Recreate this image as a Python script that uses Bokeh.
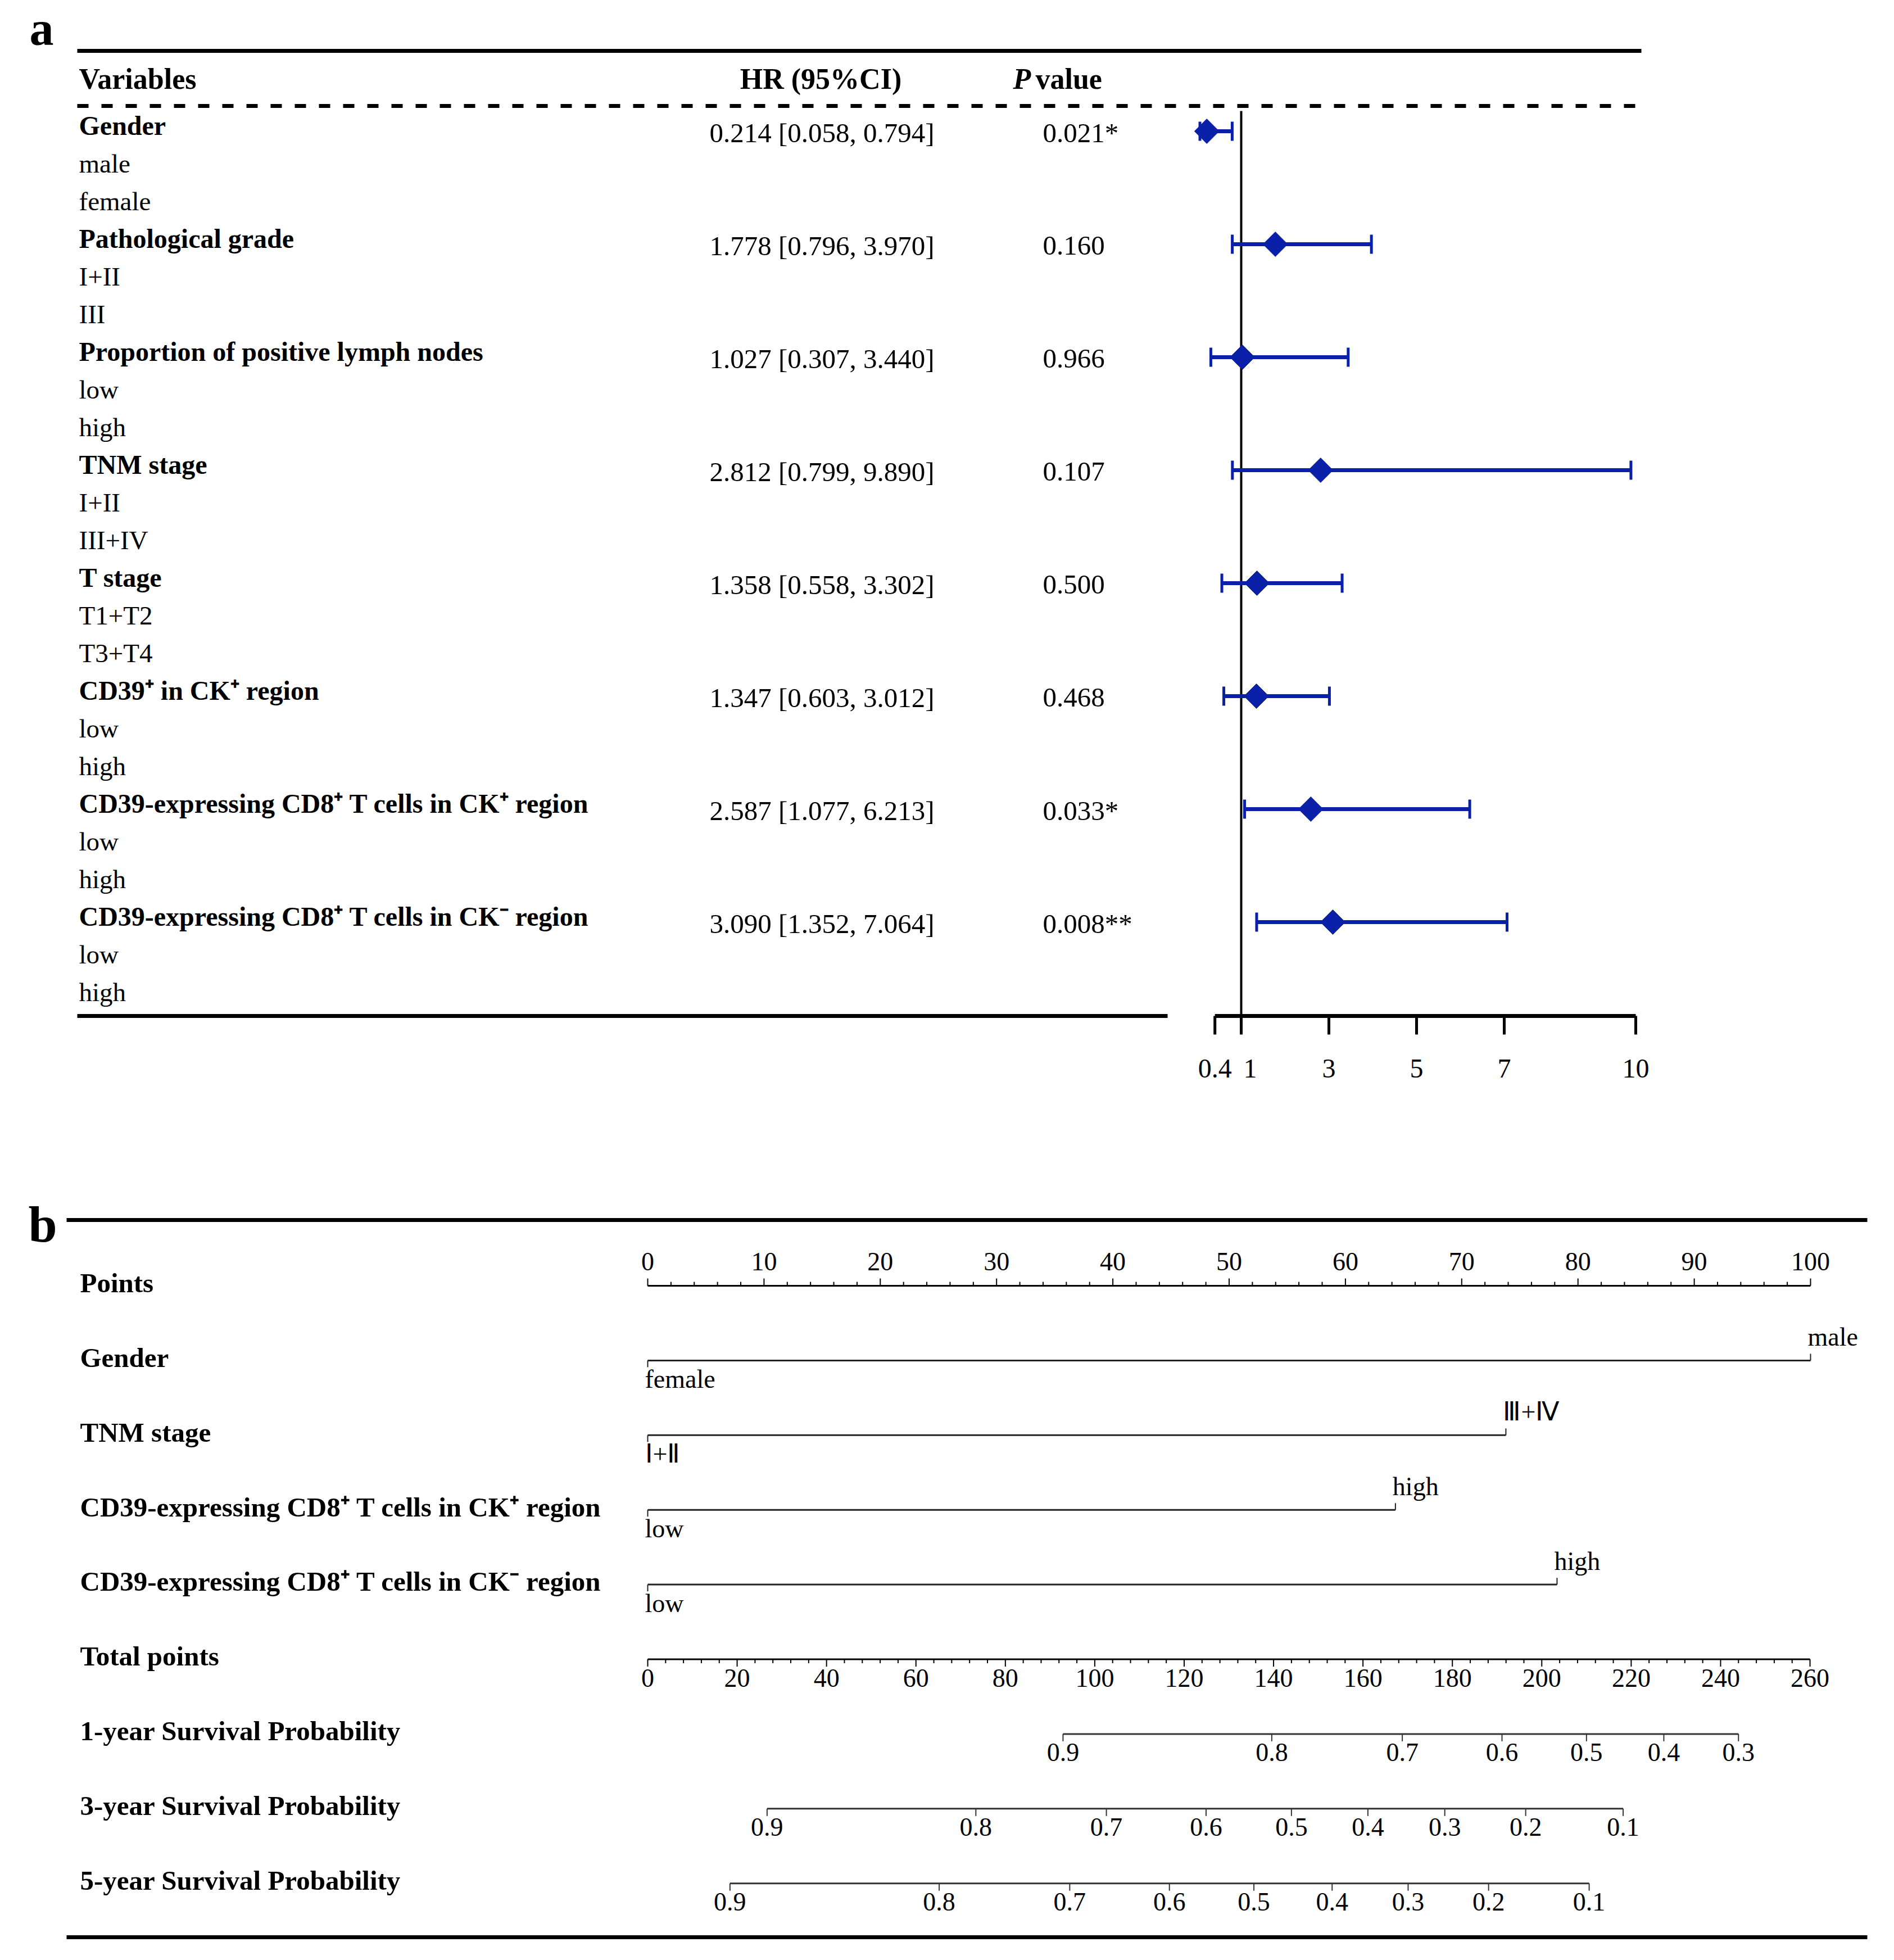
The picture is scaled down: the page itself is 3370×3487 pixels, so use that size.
import numpy as np
from bokeh.plotting import figure
from bokeh.models import Range1d
from bokeh.core.properties import value
from bokeh.embed import file_html
from bokeh.resources import INLINE

# ---------------- data ----------------
group_names = ["Gender", "Pathological grade", "Proportion of positive lymph nodes",
               "TNM stage", "T stage", "CD39\u207a in CK\u207a region",
               "CD39-expressing CD8\u207a T cells in CK\u207a region",
               "CD39-expressing CD8\u207a T cells in CK\u207b region"]
group_levels = [["male", "female"], ["I+II", "III"], ["low", "high"], ["I+II", "III+IV"],
                ["T1+T2", "T3+T4"], ["low", "high"], ["low", "high"], ["low", "high"]]
hr = [0.214, 1.778, 1.027, 2.812, 1.358, 1.347, 2.587, 3.090]
ci_low = [0.058, 0.796, 0.307, 0.799, 0.558, 0.603, 1.077, 1.352]
ci_high = [0.794, 3.970, 3.440, 9.890, 3.302, 3.012, 6.213, 7.064]
p_values = ["0.021*", "0.160", "0.966", "0.107", "0.500", "0.468", "0.033*", "0.008**"]
hr_ticks = [0.4, 1, 3, 5, 7, 10]
hr_tick_labels = ["0.4", "1", "3", "5", "7", "10"]

nomo_vars = ["Gender", "TNM stage",
             "CD39-expressing CD8\u207a T cells in CK\u207a region",
             "CD39-expressing CD8\u207a T cells in CK\u207b region"]
nomo_low_labels = ["female", "\u2160+\u2161", "low", "low"]
nomo_high_labels = ["male", "\u2162+\u2163", "high", "high"]
nomo_high_points = [100, 73.8, 64.3, 78.2]
points_ticks = [0, 10, 20, 30, 40, 50, 60, 70, 80, 90, 100]
total_ticks = [0, 20, 40, 60, 80, 100, 120, 140, 160, 180, 200, 220, 240, 260]
surv_names = ["1-year Survival Probability", "3-year Survival Probability",
              "5-year Survival Probability"]
surv_1y_prob = [0.9, 0.8, 0.7, 0.6, 0.5, 0.4, 0.3]
surv_1y_pts = [92.9, 139.6, 168.8, 191.1, 210.0, 227.3, 244.0]
surv_3y_prob = [0.9, 0.8, 0.7, 0.6, 0.5, 0.4, 0.3, 0.2, 0.1]
surv_3y_pts = [26.7, 73.4, 102.6, 124.9, 144.0, 161.1, 178.3, 196.4, 218.2]
surv_5y_prob = [0.9, 0.8, 0.7, 0.6, 0.5, 0.4, 0.3, 0.2, 0.1]
surv_5y_pts = [18.4, 65.2, 94.4, 116.7, 135.6, 153.1, 170.1, 188.1, 210.6]

# ---------------- layout ----------------
FONT = "Liberation Serif"
BLUE = "#0B20A8"
W, H = 3354, 3468
X0, Y0 = 0, 0
TEXT_DY_EM = 0.35          # baseline correction for rendered text

HR1_PX, HR_K = 2208.0, 78.0            # pixel of HR = 1, px per HR unit
PTS0_PX, PTS_K = 1152.0, 20.69          # points scale
TOT0_PX, TOT_K = 1152.0, 7.954          # total points scale

p = figure(width=W, height=H, x_range=Range1d(X0, X0 + W), y_range=Range1d(Y0 + H, Y0),
           x_axis_type=None, y_axis_type=None, toolbar_location=None,
           output_backend="svg", min_border=0, outline_line_color=None)
p.extra_x_ranges = {
    "hr": Range1d(1 - (HR1_PX - X0) / HR_K, 1 + (X0 + W - HR1_PX) / HR_K),
    "pts": Range1d(-(PTS0_PX - X0) / PTS_K, (X0 + W - PTS0_PX) / PTS_K),
    "tot": Range1d(-(TOT0_PX - X0) / TOT_K, (X0 + W - TOT0_PX) / TOT_K),
}


def txt(x, y, s, size, style="normal", align="left", xr="default"):
    p.text(x=list(x), y=[yy - TEXT_DY_EM * size for yy in y], text=list(s),
           text_font=value(FONT), text_font_size=f"{size}px", text_font_style=style,
           text_align=align, text_baseline="alphabetic", text_color="black",
           x_range_name=xr)


def hline(x0, x1, y, w, xr="default", dash="solid", color="black"):
    p.segment(x0=list(x0), x1=list(x1), y0=list(y), y1=list(y), line_width=w,
              line_color=color, line_dash=dash, x_range_name=xr)


# ================= panel a =================
txt([52], [81], ["a"], 86, "bold")
hline([137], [2920], [90], 7)
txt([140], [158], ["Variables"], 52, "bold")
txt([1460], [158], ["HR (95%CI)"], 52, "bold", align="center")
txt([1802], [158], ["P"], 52, "bold italic")
txt([1842], [158], ["value"], 52, "bold")
hline([137], [2920], [188], 7, dash="20 23")

ROW0, ROW_D = 240.0, 67.0
labels, styles, ys = [], [], []
i = 0
for g, lv in zip(group_names, group_levels):
    labels.append(g); styles.append("bold"); ys.append(ROW0 + ROW_D * i); i += 1
    for l in lv:
        labels.append(l); styles.append("normal"); ys.append(ROW0 + ROW_D * i); i += 1
for st, sz in (("bold", 48), ("normal", 47)):
    idx = [k for k in range(len(labels)) if styles[k] == st]
    txt([140] * len(idx), [ys[k] for k in idx], [labels[k] for k in idx], sz, st)

g_base = [ROW0 + ROW_D * 3 * g for g in range(len(group_names))]
hr_text = [f"{h:.3f} [{lo:.3f}, {hi:.3f}]" for h, lo, hi in zip(hr, ci_low, ci_high)]
txt([1462] * len(hr), [b + 13 for b in g_base], hr_text, 49, align="center")
txt([1855] * len(hr), [b + 13 for b in g_base], p_values, 49)

TABLE_BOTTOM = 1807
hline([137], [2077], [TABLE_BOTTOM], 7)

# reference line at HR = 1
p.segment(x0=[1], x1=[1], y0=[197], y1=[TABLE_BOTTOM], line_width=4, line_color="black",
          x_range_name="hr")

pt_y = [b - 7 for b in g_base]
p.segment(x0=ci_low, x1=ci_high, y0=pt_y, y1=pt_y, line_width=7, line_color=BLUE,
          x_range_name="hr")
for cap in (ci_low, ci_high):
    p.segment(x0=cap, x1=cap, y0=[y - 17 for y in pt_y], y1=[y + 17 for y in pt_y],
              line_width=5, line_color=BLUE, x_range_name="hr")
p.scatter(x=hr, y=pt_y, marker="square", size=31, angle=np.pi / 4, fill_color=BLUE,
          line_color=BLUE, x_range_name="hr")

# HR axis
hline([hr_ticks[0]], [hr_ticks[-1]], [TABLE_BOTTOM], 7, xr="hr")
p.segment(x0=hr_ticks, x1=hr_ticks, y0=[TABLE_BOTTOM] * len(hr_ticks),
          y1=[TABLE_BOTTOM + 33] * len(hr_ticks), line_width=5, line_color="black",
          x_range_name="hr")
hr_label_dx = [0, 16, 0, 0, 0, 0]   # px nudge so "0.4" and "1" do not collide
txt([t + d / HR_K for t, d in zip(hr_ticks, hr_label_dx)], [1917] * len(hr_ticks),
    hr_tick_labels, 48, align="center", xr="hr")

# ================= panel b =================
txt([50], [2210], ["b"], 92, "bold")
hline([118], [3322], [2170], 7)
hline([118], [3322], [3446], 7)

NB0, NB_D = 2299.0, 132.9
row_names = ["Points"] + nomo_vars + ["Total points"] + surv_names
row_base = [NB0 + NB_D * k for k in range(len(row_names))]
row_line = [b - 12 for b in row_base]
txt([142] * len(row_names), row_base, row_names, 49, "bold")

NUM_SIZE = 46
# Points axis (ticks up)
ly = row_line[0]
hline([points_ticks[0]], [points_ticks[-1]], [ly], 3, xr="pts")
p.segment(x0=points_ticks, x1=points_ticks, y0=[ly] * len(points_ticks),
          y1=[ly - 13] * len(points_ticks), line_width=2, line_color="black", x_range_name="pts")
minor_pts = [v for v in range(0, 101, 2) if v % 10]
p.segment(x0=minor_pts, x1=minor_pts, y0=[ly] * len(minor_pts),
          y1=[ly - 7] * len(minor_pts), line_width=2, line_color="black", x_range_name="pts")
txt(points_ticks, [ly - 27] * len(points_ticks), [str(v) for v in points_ticks], NUM_SIZE,
    align="center", xr="pts")

# variable lines
for k in range(len(nomo_vars)):
    ly = row_line[1 + k]
    hp = nomo_high_points[k]
    hline([0], [hp], [ly], 3, xr="pts", color="#222222")
    p.segment(x0=[hp], x1=[hp], y0=[ly], y1=[ly - 12], line_width=2, line_color="#222222",
              x_range_name="pts")
    p.segment(x0=[0], x1=[0], y0=[ly], y1=[ly + 12], line_width=2, line_color="#222222",
              x_range_name="pts")
    txt([hp - 5 / PTS_K], [ly - 26], [nomo_high_labels[k]], NUM_SIZE, xr="pts")
    txt([0 - 5 / PTS_K], [ly + 49], [nomo_low_labels[k]], NUM_SIZE, xr="pts")

# Total points axis (ticks down)
ly = row_line[5]
hline([total_ticks[0]], [total_ticks[-1]], [ly], 3, xr="tot")
p.segment(x0=total_ticks, x1=total_ticks, y0=[ly] * len(total_ticks),
          y1=[ly + 13] * len(total_ticks), line_width=2, line_color="black", x_range_name="tot")
minor_tot = [v for v in range(0, 261, 4) if v % 20]
p.segment(x0=minor_tot, x1=minor_tot, y0=[ly] * len(minor_tot),
          y1=[ly + 7] * len(minor_tot), line_width=2, line_color="black", x_range_name="tot")
txt(total_ticks, [ly + 50] * len(total_ticks), [str(v) for v in total_ticks], NUM_SIZE,
    align="center", xr="tot")

# survival probability scales
for k, (pos, prob) in enumerate([(surv_1y_pts, surv_1y_prob), (surv_3y_pts, surv_3y_prob),
                                  (surv_5y_pts, surv_5y_prob)]):
    ly = row_line[6 + k]
    hline([pos[0]], [pos[-1]], [ly], 3, xr="tot", color="#333333")
    p.segment(x0=pos, x1=pos, y0=[ly] * len(pos), y1=[ly + 13] * len(pos), line_width=2,
              line_color="#333333", x_range_name="tot")
    txt(pos, [ly + 49] * len(pos), [f"{v:.1f}" for v in prob], NUM_SIZE, align="center",
        xr="tot")

open("out.html", "w").write(file_html(p, INLINE))
